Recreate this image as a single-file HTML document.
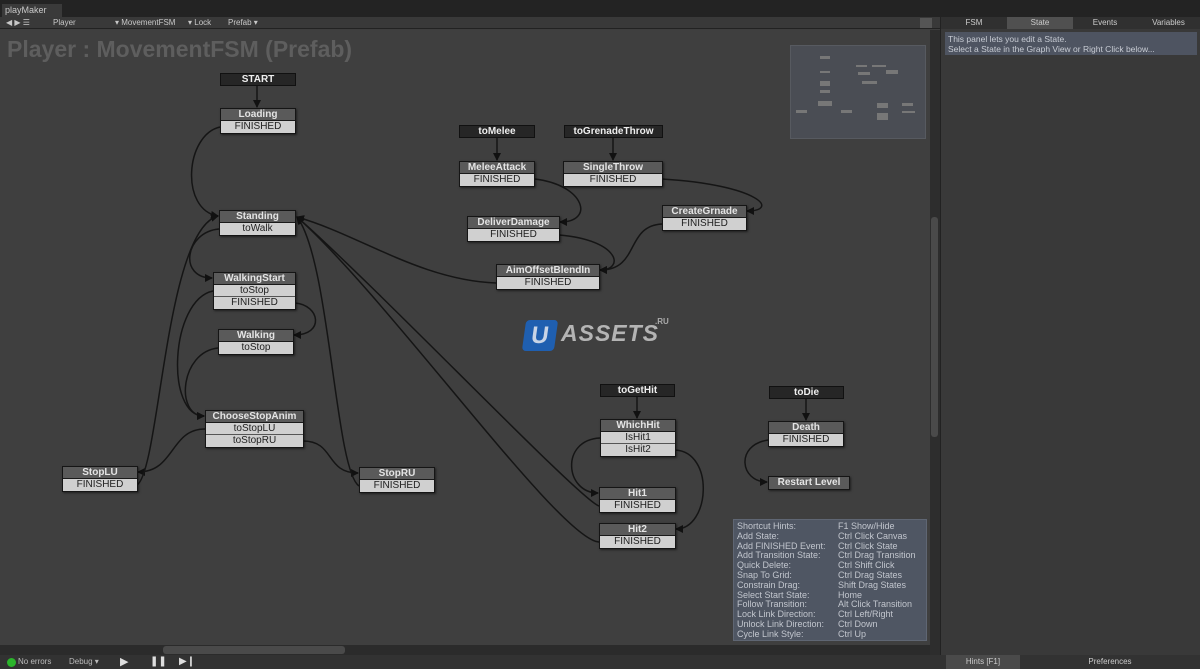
<!DOCTYPE html>
<html><head><meta charset="utf-8">
<style>
*{margin:0;padding:0;box-sizing:border-box}
body{width:1200px;height:669px;overflow:hidden;background:#3e3e3e;font-family:"Liberation Sans","DejaVu Sans",sans-serif;position:relative}
.a{position:absolute}
.n{position:absolute;border:1px solid #151515;box-shadow:1px 1px 2px rgba(0,0,0,.5)}
.h{background:#5a5a5a;color:#e4e4e4;font-weight:bold;font-size:10px;text-align:center;height:12px;line-height:12px;border-bottom:1px solid #1a1a1a}
.r{background:#d0d0d0;color:#1e1e1e;font-size:10px;text-align:center;height:12px;line-height:12px;border-bottom:1px solid #555}
.r:last-child{border-bottom:none}
.g{position:absolute;background:#262626;color:#eee;font-weight:bold;font-size:10px;text-align:center;height:13px;line-height:12px;border:1px solid #111}
.hint{font-size:9px;color:#c2c6ce;line-height:9.8px}
</style></head><body>
<div class="a" style="left:0;top:0;width:1200px;height:17px;background:#232323"></div>
<div class="a" style="left:2px;top:4px;width:60px;height:13px;background:#3a3a3a;color:#c8c8c8;font-size:9px;line-height:13px;padding-left:3px">playMaker</div>
<div class="a" style="left:0;top:17px;width:940px;height:12px;background:#393939;border-bottom:1px solid #222;color:#c8c8c8;font-size:8px;line-height:12px">
<span class="a" style="left:6px">◀ ▶ ☰</span><span class="a" style="left:53px">Player</span><span class="a" style="left:115px">▾ MovementFSM</span><span class="a" style="left:188px">▾ Lock</span><span class="a" style="left:228px">Prefab ▾</span>
<span class="a" style="left:920px;top:1px;width:12px;height:10px;background:#555"></span></div>
<div class="a" style="left:0;top:30px;width:930px;height:615px;background:#3f3f3f"></div>
<div class="a" style="left:7px;top:36px;color:#5e5e5e;font-weight:bold;font-size:23px">Player : MovementFSM (Prefab)</div>
<div class="a" style="left:930px;top:30px;width:10px;height:625px;background:#2d2d2d"></div>
<div class="a" style="left:931px;top:217px;width:7px;height:220px;background:#4a4a4a;border-radius:3px"></div>
<div class="a" style="left:0;top:645px;width:930px;height:10px;background:#2b2b2b"></div>
<div class="a" style="left:163px;top:646px;width:182px;height:8px;background:#4a4a4a;border-radius:3px"></div>
<div class="a" style="left:0;top:655px;width:1200px;height:14px;background:#323232;color:#bbb;font-size:8px;line-height:14px">
<span class="a" style="left:7px;top:3px;width:9px;height:9px;border-radius:50%;background:#2bb52b"></span>
<span class="a" style="left:18px">No errors</span><span class="a" style="left:69px">Debug ▾</span>
<span class="a" style="left:120px;font-size:11px;color:#ddd">▶</span><span class="a" style="left:150px;font-size:10px;color:#ddd;font-weight:bold">❚❚</span><span class="a" style="left:179px;font-size:10px;color:#ddd">▶❙</span>
<span class="a" style="left:946px;width:74px;background:#4a4a4a;text-align:center;color:#ccc">Hints [F1]</span>
<span class="a" style="left:1060px;width:100px;text-align:center;color:#ccc">Preferences</span></div>
<div class="a" style="left:940px;top:17px;width:260px;height:638px;background:#393939;border-left:1px solid #222"></div>
<div class="a" style="left:941px;top:17px;width:259px;height:12px;font-size:8px;color:#ccc;line-height:12px;background:#303030">
<span class="a" style="left:0;width:66px;text-align:center">FSM</span><span class="a" style="left:66px;width:66px;text-align:center;background:#505050">State</span><span class="a" style="left:132px;width:64px;text-align:center">Events</span><span class="a" style="left:196px;width:63px;text-align:center">Variables</span></div>
<div class="a" style="left:945px;top:32px;width:252px;height:23px;background:#4e5461;color:#c8ccd4;font-size:8.5px;line-height:10px;padding:2px 3px">This panel lets you edit a State.<br>Select a State in the Graph View or Right Click below...</div>
<div class="a" style="left:790px;top:45px;width:136px;height:94px;background:#4a4d54;border:1px solid #575a60"></div>
<div class="a" style="left:820px;top:56px;width:10px;height:3px;background:#777"></div>
<div class="a" style="left:820px;top:71px;width:10px;height:2px;background:#777"></div>
<div class="a" style="left:820px;top:81px;width:10px;height:5px;background:#777"></div>
<div class="a" style="left:820px;top:90px;width:10px;height:3px;background:#777"></div>
<div class="a" style="left:818px;top:101px;width:14px;height:5px;background:#777"></div>
<div class="a" style="left:796px;top:110px;width:11px;height:3px;background:#777"></div>
<div class="a" style="left:841px;top:110px;width:11px;height:3px;background:#777"></div>
<div class="a" style="left:856px;top:65px;width:11px;height:2px;background:#777"></div>
<div class="a" style="left:872px;top:65px;width:14px;height:2px;background:#777"></div>
<div class="a" style="left:858px;top:72px;width:12px;height:3px;background:#777"></div>
<div class="a" style="left:886px;top:70px;width:12px;height:4px;background:#777"></div>
<div class="a" style="left:862px;top:81px;width:15px;height:3px;background:#777"></div>
<div class="a" style="left:877px;top:103px;width:11px;height:5px;background:#777"></div>
<div class="a" style="left:877px;top:113px;width:11px;height:7px;background:#777"></div>
<div class="a" style="left:902px;top:103px;width:11px;height:3px;background:#777"></div>
<div class="a" style="left:902px;top:111px;width:13px;height:2px;background:#777"></div>
<svg class="a" style="left:0;top:0" width="930" height="645">
<defs><marker id="m" markerWidth="8" markerHeight="8" refX="7" refY="4" orient="auto" markerUnits="userSpaceOnUse"><path d="M0,0 L8,4 L0,8z" fill="#111"/></marker></defs>
<g fill="none" stroke="#151515" stroke-width="1.5" marker-end="url(#m)">
<path d="M257,86 L257,107"/>
<path d="M497,137 L497,160"/>
<path d="M613,137 L613,160"/>
<path d="M637,396 L637,418"/>
<path d="M806,398 L806,420"/>
<path d="M220,127 C185,135 180,210 218,216"/>
<path d="M219,229 C185,232 178,278 212,278"/>
<path d="M295,303 C320,305 325,335 294,335"/>
<path d="M213,291 C170,300 165,416 204,416"/>
<path d="M218,348 C180,352 175,416 204,416"/>
<path d="M205,429 C170,429 175,472 138,472"/>
<path d="M303,441 C335,441 325,473 358,473"/>
<path d="M137,485 C160,470 165,230 218,216"/>
<path d="M359,486 C335,470 330,260 297,217"/>
<path d="M496,283 C420,280 360,235 297,217"/>
<path d="M599,506 C580,500 380,290 297,217"/>
<path d="M599,542 C560,540 390,300 297,217"/>
<path d="M600,438 C560,440 565,493 598,493"/>
<path d="M675,450 C715,452 710,529 676,529"/>
<path d="M535,179 C585,185 595,222 560,222"/>
<path d="M662,179 C760,185 780,211 747,211"/>
<path d="M559,235 C620,240 625,270 600,270"/>
<path d="M662,224 C625,226 640,270 600,270"/>
<path d="M768,440 C735,445 740,482 767,482"/>
</g></svg>
<div class="g" style="left:220px;top:73px;width:76px">START</div>
<div class="n" style="left:220px;top:108px;width:76px"><div class="h">Loading</div><div class="r">FINISHED</div></div>
<div class="n" style="left:219px;top:210px;width:77px"><div class="h">Standing</div><div class="r">toWalk</div></div>
<div class="n" style="left:213px;top:272px;width:83px"><div class="h">WalkingStart</div><div class="r">toStop</div><div class="r">FINISHED</div></div>
<div class="n" style="left:218px;top:329px;width:76px"><div class="h">Walking</div><div class="r">toStop</div></div>
<div class="n" style="left:205px;top:410px;width:99px"><div class="h">ChooseStopAnim</div><div class="r">toStopLU</div><div class="r">toStopRU</div></div>
<div class="n" style="left:62px;top:466px;width:76px"><div class="h">StopLU</div><div class="r">FINISHED</div></div>
<div class="n" style="left:359px;top:467px;width:76px"><div class="h">StopRU</div><div class="r">FINISHED</div></div>
<div class="g" style="left:459px;top:125px;width:76px">toMelee</div>
<div class="n" style="left:459px;top:161px;width:76px"><div class="h">MeleeAttack</div><div class="r">FINISHED</div></div>
<div class="g" style="left:564px;top:125px;width:99px">toGrenadeThrow</div>
<div class="n" style="left:563px;top:161px;width:100px"><div class="h">SingleThrow</div><div class="r">FINISHED</div></div>
<div class="n" style="left:467px;top:216px;width:93px"><div class="h">DeliverDamage</div><div class="r">FINISHED</div></div>
<div class="n" style="left:662px;top:205px;width:85px"><div class="h">CreateGrnade</div><div class="r">FINISHED</div></div>
<div class="n" style="left:496px;top:264px;width:104px"><div class="h">AimOffsetBlendIn</div><div class="r">FINISHED</div></div>
<div class="g" style="left:600px;top:384px;width:75px">toGetHit</div>
<div class="n" style="left:600px;top:419px;width:76px"><div class="h">WhichHit</div><div class="r">IsHit1</div><div class="r">IsHit2</div></div>
<div class="n" style="left:599px;top:487px;width:77px"><div class="h">Hit1</div><div class="r">FINISHED</div></div>
<div class="n" style="left:599px;top:523px;width:77px"><div class="h">Hit2</div><div class="r">FINISHED</div></div>
<div class="g" style="left:769px;top:386px;width:75px">toDie</div>
<div class="n" style="left:768px;top:421px;width:76px"><div class="h">Death</div><div class="r">FINISHED</div></div>
<div class="n" style="left:768px;top:476px;width:82px"><div class="h" style="border:none">Restart Level</div></div>
<div class="a" style="left:524px;top:320px;width:32px;height:31px;background:#1f5fb0;border-radius:4px;transform:skewX(-8deg);color:#c8d4e6;font-weight:bold;font-size:24px;text-align:center;line-height:31px">U</div>
<div class="a" style="left:561px;top:320px;color:#b4b4b4;font-weight:bold;font-style:italic;font-size:23px;letter-spacing:1px">ASSETS</div>
<div class="a" style="left:655px;top:317px;color:#aaa;font-weight:bold;font-size:8px">.RU</div>
<div class="a" style="left:733px;top:519px;width:194px;height:122px;background:#4f5663;border:1px solid #5f6673"></div>
<div class="a hint" style="left:737px;top:522px">Shortcut Hints:<br>Add State:<br>Add FINISHED Event:<br>Add Transition State:<br>Quick Delete:<br>Snap To Grid:<br>Constrain Drag:<br>Select Start State:<br>Follow Transition:<br>Lock Link Direction:<br>Unlock Link Direction:<br>Cycle Link Style:</div>
<div class="a hint" style="left:838px;top:522px">F1 Show/Hide<br>Ctrl Click Canvas<br>Ctrl Click State<br>Ctrl Drag Transition<br>Ctrl Shift Click<br>Ctrl Drag States<br>Shift Drag States<br>Home<br>Alt Click Transition<br>Ctrl Left/Right<br>Ctrl Down<br>Ctrl Up</div>
</body></html>
